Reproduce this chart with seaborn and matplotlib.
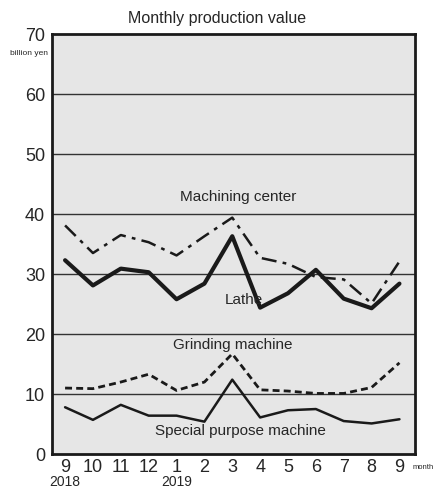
import matplotlib
matplotlib.use("Agg")
import matplotlib.pyplot as plt
import seaborn as sns
import pandas as pd

months = ["9", "10", "11", "12", "1", "2", "3", "4", "5", "6", "7", "8", "9"]
years = {0: "2018", 4: "2019"}
machining_center = [38.1, 33.5, 36.5, 35.3, 33.1, 36.3, 39.4, 32.7, 31.7, 29.5, 29.1, 25.1, 32.1]
lathe = [32.3, 28.1, 30.9, 30.3, 25.8, 28.4, 36.3, 24.4, 26.8, 30.7, 25.9, 24.3, 28.4]
grinding_machine = [11.0, 10.9, 12.0, 13.3, 10.6, 12.0, 16.7, 10.7, 10.5, 10.1, 10.1, 11.1, 15.2]
special_purpose = [7.8, 5.7, 8.2, 6.4, 6.4, 5.4, 12.4, 6.1, 7.3, 7.5, 5.5, 5.1, 5.8]

df = pd.DataFrame({
    "pos": range(len(months)),
    "Machining center": machining_center,
    "Lathe": lathe,
    "Grinding machine": grinding_machine,
    "Special purpose machine": special_purpose,
})

sns.set_style("white")
plt.rcParams["font.family"] = ["Liberation Sans", "DejaVu Sans"]

fig = plt.figure(figsize=(4.35, 4.93), dpi=100)
ax = fig.add_axes([0.1195, 0.079, 0.834, 0.852])
ax.set_facecolor("#e6e6e6")

styles = {
    "Machining center": dict(linestyle=(0, (6, 2.5, 1.5, 2.5)), linewidth=1.8),
    "Lathe": dict(linestyle="-", linewidth=3.0),
    "Grinding machine": dict(linestyle=(0, (2.5, 1.5)), linewidth=2.0),
    "Special purpose machine": dict(linestyle="-", linewidth=1.8),
}
for name, st in styles.items():
    sns.lineplot(data=df, x="pos", y=name, ax=ax, color="#1a1a1a", **st)

for yv in range(10, 70, 10):
    ax.axhline(yv, color="#333333", linewidth=1.0, zorder=0.5)

ax.set_xlim(-0.47, 12.55)
ax.set_ylim(0, 70)
ax.set_yticks(range(0, 80, 10))
ax.tick_params(axis="y", length=0, labelsize=13, pad=5)
ax.set_xticks([i + 0.5 for i in range(12)])
ax.set_xticklabels([])
ax.tick_params(axis="x", direction="in", length=7, width=1.2, color="#1a1a1a")
for i, m in enumerate(months):
    ax.text(i, -0.9, m, ha="center", va="top", fontsize=13)
for i, yr in years.items():
    ax.text(i, -3.5, yr, ha="center", va="top", fontsize=10)
ax.text(12.47, -1.7, "month", ha="left", va="top", fontsize=5.5)
ax.text(-0.6, 66.8, "billion yen", ha="right", va="center", fontsize=6)
ax.set_xlabel("")
ax.set_ylabel("")

for s in ax.spines.values():
    s.set_linewidth(2.0)
    s.set_color("#1a1a1a")

ax.text(6.2, 42.8, "Machining center", ha="center", va="center", fontsize=11)
ax.text(6.4, 25.7, "Lathe", ha="center", va="center", fontsize=11)
ax.text(6.0, 18.1, "Grinding machine", ha="center", va="center", fontsize=11)
ax.text(6.3, 3.9, "Special purpose machine", ha="center", va="center", fontsize=11)

fig.text(0.5, 0.962, "Monthly production value", ha="center", va="center", fontsize=11.5)

fig.savefig("out.png", dpi=100)
